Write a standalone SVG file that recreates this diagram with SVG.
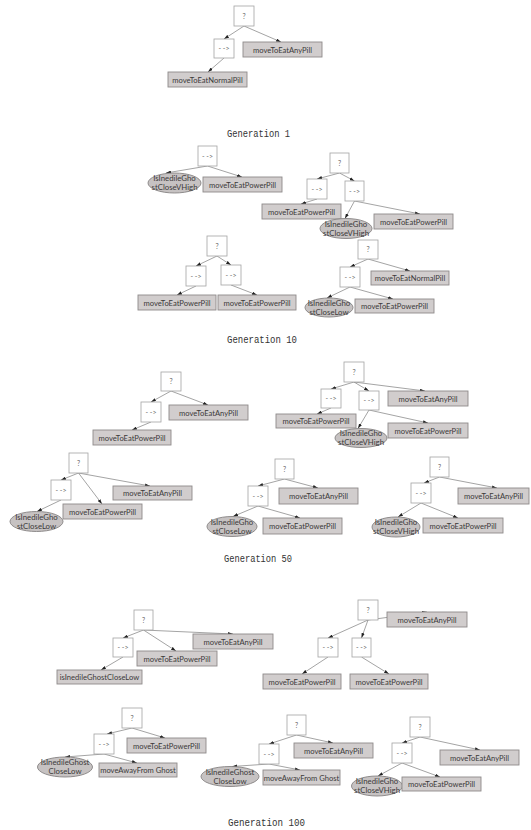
<svg xmlns="http://www.w3.org/2000/svg" width="531" height="830" viewBox="0 0 531 830">
  <style>
    .op rect { fill: #ffffff; stroke: #a3a3a3; stroke-width: 0.8; }
    .op text { font-family: Lato, "Liberation Sans", sans-serif; font-size: 7px; fill: #6a6a6a; text-anchor: middle; }
    .act rect { fill: #d1cdcd; stroke: #8e8a8a; stroke-width: 0.9; }
    .act text { font-family: Lato, "Liberation Sans", sans-serif; font-size: 7.6px; fill: #3c3a3a; text-anchor: middle; }
    .cond ellipse { fill: #c6c2c2; stroke: #868282; stroke-width: 0.9; }
    .cond text { font-family: Lato, "Liberation Sans", sans-serif; font-size: 7.8px; fill: #3c3a3a; text-anchor: middle; }
    .edges line { stroke: #7c7c7c; stroke-width: 0.7; marker-end: url(#ah); }
    .caption { font-family: "Liberation Mono", "Noto Sans CJK SC", monospace; font-size: 11.5px; fill: #333333; }
  </style>
  <defs>
    <marker id="ah" viewBox="0 0 6 4" refX="6" refY="2" markerWidth="5" markerHeight="3.4" markerUnits="userSpaceOnUse" orient="auto">
      <path d="M0,0 L6,2 L0,4 Z" fill="#222222"/>
    </marker>
  </defs>

  <!-- connectors -->
  <g class="edges">
    <!-- generation 1 -->
    <line x1="244" y1="26" x2="224" y2="39"/>
    <line x1="244" y1="26" x2="281" y2="42"/>
    <line x1="224" y1="58" x2="208" y2="72"/>
    <!-- generation 10 -->
    <line x1="207.5" y1="166" x2="166" y2="173"/>
    <line x1="207.5" y1="166" x2="242" y2="177"/>
    <line x1="339.5" y1="173" x2="317" y2="179"/>
    <line x1="339.5" y1="173" x2="354.5" y2="181"/>
    <line x1="317" y1="199" x2="301" y2="204"/>
    <line x1="354.5" y1="201" x2="345" y2="218.5"/>
    <line x1="354.5" y1="201" x2="420" y2="214"/>
    <line x1="217" y1="256" x2="196" y2="266"/>
    <line x1="217" y1="256" x2="231" y2="265"/>
    <line x1="196" y1="286" x2="177" y2="295"/>
    <line x1="231" y1="285" x2="257" y2="295"/>
    <line x1="368" y1="259" x2="350" y2="267"/>
    <line x1="368" y1="259" x2="410" y2="271"/>
    <line x1="350" y1="287" x2="327" y2="298"/>
    <line x1="350" y1="287" x2="393" y2="299"/>
    <!-- generation 50 -->
    <line x1="171" y1="391" x2="151" y2="402"/>
    <line x1="171" y1="391" x2="208" y2="405"/>
    <line x1="151" y1="422" x2="132" y2="430"/>
    <line x1="354" y1="382" x2="331" y2="389"/>
    <line x1="354" y1="382" x2="369" y2="391"/>
    <line x1="354" y1="382" x2="425" y2="391"/>
    <line x1="331" y1="408" x2="317" y2="414"/>
    <line x1="369" y1="410" x2="358" y2="428.5"/>
    <line x1="369" y1="410" x2="428" y2="423"/>
    <line x1="78.5" y1="473" x2="61" y2="480"/>
    <line x1="78.5" y1="473" x2="102" y2="504"/>
    <line x1="78.5" y1="473" x2="150" y2="486"/>
    <line x1="61" y1="500" x2="37" y2="511.5"/>
    <line x1="284.5" y1="479" x2="258" y2="486"/>
    <line x1="284.5" y1="479" x2="318" y2="488"/>
    <line x1="258" y1="506" x2="233" y2="516.5"/>
    <line x1="258" y1="506" x2="300" y2="518"/>
    <line x1="439.5" y1="477" x2="424" y2="483"/>
    <line x1="439.5" y1="477" x2="497" y2="488"/>
    <line x1="421" y1="503" x2="398" y2="517"/>
    <line x1="421" y1="503" x2="458" y2="518"/>
    <!-- generation 100 -->
    <line x1="143.5" y1="630" x2="123" y2="638"/>
    <line x1="143.5" y1="630" x2="176" y2="651"/>
    <line x1="143.5" y1="630" x2="233" y2="634"/>
    <line x1="123" y1="657" x2="101" y2="670"/>
    <line x1="368" y1="620" x2="328" y2="638"/>
    <line x1="368" y1="620" x2="361.5" y2="638"/>
    <line x1="368" y1="620" x2="427" y2="612"/>
    <line x1="328" y1="657" x2="302" y2="674"/>
    <line x1="361.5" y1="657" x2="389" y2="674"/>
    <line x1="132" y1="728" x2="107" y2="734"/>
    <line x1="132" y1="728" x2="165" y2="738"/>
    <line x1="104" y1="754" x2="65" y2="757"/>
    <line x1="104" y1="754" x2="137" y2="763"/>
    <line x1="296.5" y1="735" x2="269" y2="744"/>
    <line x1="296.5" y1="735" x2="333" y2="743"/>
    <line x1="269" y1="764" x2="232" y2="766.5"/>
    <line x1="269" y1="764" x2="300" y2="770"/>
    <line x1="420" y1="737" x2="402" y2="743"/>
    <line x1="420" y1="737" x2="480" y2="750"/>
    <line x1="402" y1="763" x2="378" y2="776"/>
    <line x1="402" y1="763" x2="440" y2="777"/>
  </g>

  <!-- ===== Generation 1 ===== -->
  <g id="g1-sel" class="op"><rect x="234" y="6" width="20" height="20"/><text x="244" y="19">?</text></g>
  <g id="g1-seq" class="op"><rect x="214" y="39" width="20" height="19"/><text x="224" y="51">- -&gt;</text></g>
  <g id="g1-any" class="act"><rect x="243" y="42" width="79" height="15"/><text x="282.5" y="52.5">moveToEatAnyPill</text></g>
  <g id="g1-normal" class="act"><rect x="168" y="72" width="79" height="15"/><text x="207.5" y="82.5">moveToEatNormalPill</text></g>
  <text class="caption" x="227" y="137" textLength="63" lengthAdjust="spacingAndGlyphs">Generation 1</text>

  <!-- ===== Generation 10 ===== -->
  <g id="g10a-seq" class="op"><rect x="198" y="146" width="19" height="20"/><text x="207.5" y="158.5">- -&gt;</text></g>
  <g id="g10a-cond" class="cond"><ellipse cx="174.5" cy="183" rx="26.5" ry="10"/><text x="174.5" y="181">IsInedileGho</text><text x="174.5" y="190">stCloseVHigh</text></g>
  <g id="g10a-power" class="act"><rect x="203" y="177" width="79" height="15"/><text x="242.5" y="187.5">moveToEatPowerPill</text></g>

  <g id="g10b-sel" class="op"><rect x="330" y="153" width="19" height="20"/><text x="339.5" y="165.5">?</text></g>
  <g id="g10b-seq1" class="op"><rect x="307" y="179" width="20" height="20"/><text x="317" y="191.5">- -&gt;</text></g>
  <g id="g10b-seq2" class="op"><rect x="345" y="181" width="19" height="20"/><text x="354.5" y="193.5">- -&gt;</text></g>
  <g id="g10b-power1" class="act"><rect x="262" y="204" width="79" height="15"/><text x="301.5" y="214.5">moveToEatPowerPill</text></g>
  <g id="g10b-cond" class="cond"><ellipse cx="346" cy="228.5" rx="26" ry="10"/><text x="346" y="226.5">IsInedileGho</text><text x="346" y="235.5">stCloseVHigh</text></g>
  <g id="g10b-power2" class="act"><rect x="374" y="214" width="79" height="15"/><text x="413.5" y="224.5">moveToEatPowerPill</text></g>

  <g id="g10c-sel" class="op"><rect x="207" y="236" width="20" height="20"/><text x="217" y="248.5">?</text></g>
  <g id="g10c-seq1" class="op"><rect x="186" y="266" width="20" height="20"/><text x="196" y="278.5">- -&gt;</text></g>
  <g id="g10c-seq2" class="op"><rect x="221" y="265" width="20" height="20"/><text x="231" y="277.5">- -&gt;</text></g>
  <g id="g10c-power1" class="act"><rect x="138" y="295" width="78" height="15"/><text x="177" y="305.5">moveToEatPowerPill</text></g>
  <g id="g10c-power2" class="act"><rect x="218" y="295" width="78" height="15"/><text x="257" y="305.5">moveToEatPowerPill</text></g>

  <g id="g10d-sel" class="op"><rect x="358" y="240" width="20" height="19"/><text x="368" y="252">?</text></g>
  <g id="g10d-seq" class="op"><rect x="340" y="267" width="20" height="20"/><text x="350" y="279.5">- -&gt;</text></g>
  <g id="g10d-normal" class="act"><rect x="371" y="271" width="78" height="14"/><text x="410" y="281">moveToEatNormalPill</text></g>
  <g id="g10d-cond" class="cond"><ellipse cx="329" cy="307.5" rx="24" ry="9.5"/><text x="329" y="305.5">IsInedileGho</text><text x="329" y="314.5">stCloseLow</text></g>
  <g id="g10d-power" class="act"><rect x="355" y="299" width="79" height="14"/><text x="394.5" y="309">moveToEatPowerPill</text></g>
  <text class="caption" x="227" y="343" textLength="70" lengthAdjust="spacingAndGlyphs">Generation 10</text>

  <!-- ===== Generation 50 ===== -->
  <g id="g50a-sel" class="op"><rect x="161" y="372" width="20" height="19"/><text x="171" y="384">?</text></g>
  <g id="g50a-seq" class="op"><rect x="141" y="402" width="20" height="20"/><text x="151" y="414.5">- -&gt;</text></g>
  <g id="g50a-any" class="act"><rect x="169" y="405" width="79" height="15"/><text x="208.5" y="415.5">moveToEatAnyPill</text></g>
  <g id="g50a-power" class="act"><rect x="93" y="430" width="78" height="15"/><text x="132" y="440.5">moveToEatPowerPill</text></g>

  <g id="g50b-sel" class="op"><rect x="344" y="362" width="20" height="20"/><text x="354" y="374.5">?</text></g>
  <g id="g50b-seq1" class="op"><rect x="321" y="389" width="20" height="19"/><text x="331" y="401">- -&gt;</text></g>
  <g id="g50b-seq2" class="op"><rect x="359" y="391" width="20" height="19"/><text x="369" y="403">- -&gt;</text></g>
  <g id="g50b-any" class="act"><rect x="388" y="391" width="80" height="15"/><text x="428" y="401.5">moveToEatAnyPill</text></g>
  <g id="g50b-power1" class="act"><rect x="276" y="414" width="80" height="14"/><text x="316" y="424">moveToEatPowerPill</text></g>
  <g id="g50b-cond" class="cond"><ellipse cx="361" cy="438" rx="26" ry="9.5"/><text x="361" y="436">IsInedileGho</text><text x="361" y="445">stCloseVHigh</text></g>
  <g id="g50b-power2" class="act"><rect x="388" y="423" width="80" height="15"/><text x="428" y="433.5">moveToEatPowerPill</text></g>

  <g id="g50c-sel" class="op"><rect x="69" y="453" width="19" height="20"/><text x="78.5" y="465.5">?</text></g>
  <g id="g50c-seq" class="op"><rect x="51" y="480" width="20" height="20"/><text x="61" y="492.5">- -&gt;</text></g>
  <g id="g50c-any" class="act"><rect x="113" y="486" width="79" height="14"/><text x="152.5" y="496">moveToEatAnyPill</text></g>
  <g id="g50c-power" class="act"><rect x="63" y="504" width="79" height="15"/><text x="102.5" y="514.5">moveToEatPowerPill</text></g>
  <g id="g50c-cond" class="cond"><ellipse cx="36.5" cy="521.5" rx="26.5" ry="10"/><text x="36.5" y="519.5">IsInedileGho</text><text x="36.5" y="528.5">stCloseLow</text></g>

  <g id="g50d-sel" class="op"><rect x="275" y="459" width="19" height="20"/><text x="284.5" y="471.5">?</text></g>
  <g id="g50d-seq" class="op"><rect x="248" y="486" width="20" height="20"/><text x="258" y="498.5">- -&gt;</text></g>
  <g id="g50d-any" class="act"><rect x="279" y="488" width="79" height="16"/><text x="318.5" y="499">moveToEatAnyPill</text></g>
  <g id="g50d-cond" class="cond"><ellipse cx="232" cy="526.5" rx="25" ry="10"/><text x="232" y="524.5">IsInedileGho</text><text x="232" y="533.5">stCloseLow</text></g>
  <g id="g50d-power" class="act"><rect x="263" y="518" width="79" height="16"/><text x="302.5" y="529">moveToEatPowerPill</text></g>

  <g id="g50e-sel" class="op"><rect x="430" y="457" width="19" height="20"/><text x="439.5" y="469.5">?</text></g>
  <g id="g50e-seq" class="op"><rect x="411" y="483" width="20" height="20"/><text x="421" y="495.5">- -&gt;</text></g>
  <g id="g50e-any" class="act"><rect x="458" y="488" width="71" height="16"/><text x="493.5" y="499">moveToEatAnyPill</text></g>
  <g id="g50e-cond" class="cond"><ellipse cx="396" cy="527" rx="24" ry="10"/><text x="396" y="525">IsInedileGho</text><text x="396" y="534">stCloseVHigh</text></g>
  <g id="g50e-power" class="act"><rect x="423" y="518" width="80" height="15"/><text x="463" y="528.5">moveToEatPowerPill</text></g>
  <text class="caption" x="224" y="562" textLength="68" lengthAdjust="spacingAndGlyphs">Generation 50</text>

  <!-- ===== Generation 100 ===== -->
  <g id="g100a-sel" class="op"><rect x="134" y="610" width="19" height="20"/><text x="143.5" y="622.5">?</text></g>
  <g id="g100a-seq" class="op"><rect x="113" y="638" width="20" height="19"/><text x="123" y="650">- -&gt;</text></g>
  <g id="g100a-any" class="act"><rect x="193" y="634" width="80" height="15"/><text x="233" y="644.5">moveToEatAnyPill</text></g>
  <g id="g100a-power" class="act"><rect x="137" y="651" width="80" height="15"/><text x="177" y="661.5">moveToEatPowerPill</text></g>
  <g id="g100a-cond" class="act"><rect x="57" y="670" width="85" height="14"/><text x="99.5" y="680">isInedileGhostCloseLow</text></g>

  <g id="g100b-sel" class="op"><rect x="358" y="600" width="20" height="20"/><text x="368" y="612.5">?</text></g>
  <g id="g100b-seq1" class="op"><rect x="318" y="638" width="20" height="19"/><text x="328" y="650">- -&gt;</text></g>
  <g id="g100b-seq2" class="op"><rect x="352" y="638" width="19" height="19"/><text x="361.5" y="650">- -&gt;</text></g>
  <g id="g100b-any" class="act"><rect x="387" y="612" width="80" height="15"/><text x="427" y="622.5">moveToEatAnyPill</text></g>
  <g id="g100b-power1" class="act"><rect x="263" y="674" width="78" height="15"/><text x="302" y="684.5">moveToEatPowerPill</text></g>
  <g id="g100b-power2" class="act"><rect x="350" y="674" width="78" height="15"/><text x="389" y="684.5">moveToEatPowerPill</text></g>

  <g id="g100c-sel" class="op"><rect x="122" y="708" width="20" height="20"/><text x="132" y="720.5">?</text></g>
  <g id="g100c-seq" class="op"><rect x="94" y="734" width="20" height="20"/><text x="104" y="746.5">- -&gt;</text></g>
  <g id="g100c-power" class="act"><rect x="127" y="738" width="79" height="15"/><text x="166.5" y="748.5">moveToEatPowerPill</text></g>
  <g id="g100c-cond" class="cond"><ellipse cx="65" cy="767" rx="27.5" ry="10"/><text x="65" y="765">IsInedileGhost</text><text x="65" y="774">CloseLow</text></g>
  <g id="g100c-away" class="act"><rect x="99" y="763" width="78" height="14"/><text x="138" y="773">moveAwayFrom Ghost</text></g>

  <g id="g100d-sel" class="op"><rect x="287" y="715" width="19" height="20"/><text x="296.5" y="727.5">?</text></g>
  <g id="g100d-seq" class="op"><rect x="259" y="744" width="20" height="20"/><text x="269" y="756.5">- -&gt;</text></g>
  <g id="g100d-any" class="act"><rect x="294" y="743" width="79" height="15"/><text x="333.5" y="753.5">moveToEatAnyPill</text></g>
  <g id="g100d-cond" class="cond"><ellipse cx="230" cy="776.5" rx="29" ry="10"/><text x="230" y="774.5">IsInedileGhost</text><text x="230" y="783.5">CloseLow</text></g>
  <g id="g100d-away" class="act"><rect x="263" y="770" width="77" height="15"/><text x="301.5" y="780.5">moveAwayFrom Ghost</text></g>

  <g id="g100e-sel" class="op"><rect x="410" y="717" width="20" height="20"/><text x="420" y="729.5">?</text></g>
  <g id="g100e-seq" class="op"><rect x="392" y="743" width="20" height="20"/><text x="402" y="755.5">- -&gt;</text></g>
  <g id="g100e-any" class="act"><rect x="440" y="750" width="79" height="15"/><text x="479.5" y="760.5">moveToEatAnyPill</text></g>
  <g id="g100e-cond" class="cond"><ellipse cx="377" cy="786" rx="25.5" ry="10"/><text x="377" y="784">IsInedileGho</text><text x="377" y="793">stCloseVHigh</text></g>
  <g id="g100e-power" class="act"><rect x="402" y="777" width="79" height="14"/><text x="441.5" y="787">moveToEatPowerPill</text></g>
  <text class="caption" x="228" y="826" textLength="77" lengthAdjust="spacingAndGlyphs">Generation 100</text>
</svg>
